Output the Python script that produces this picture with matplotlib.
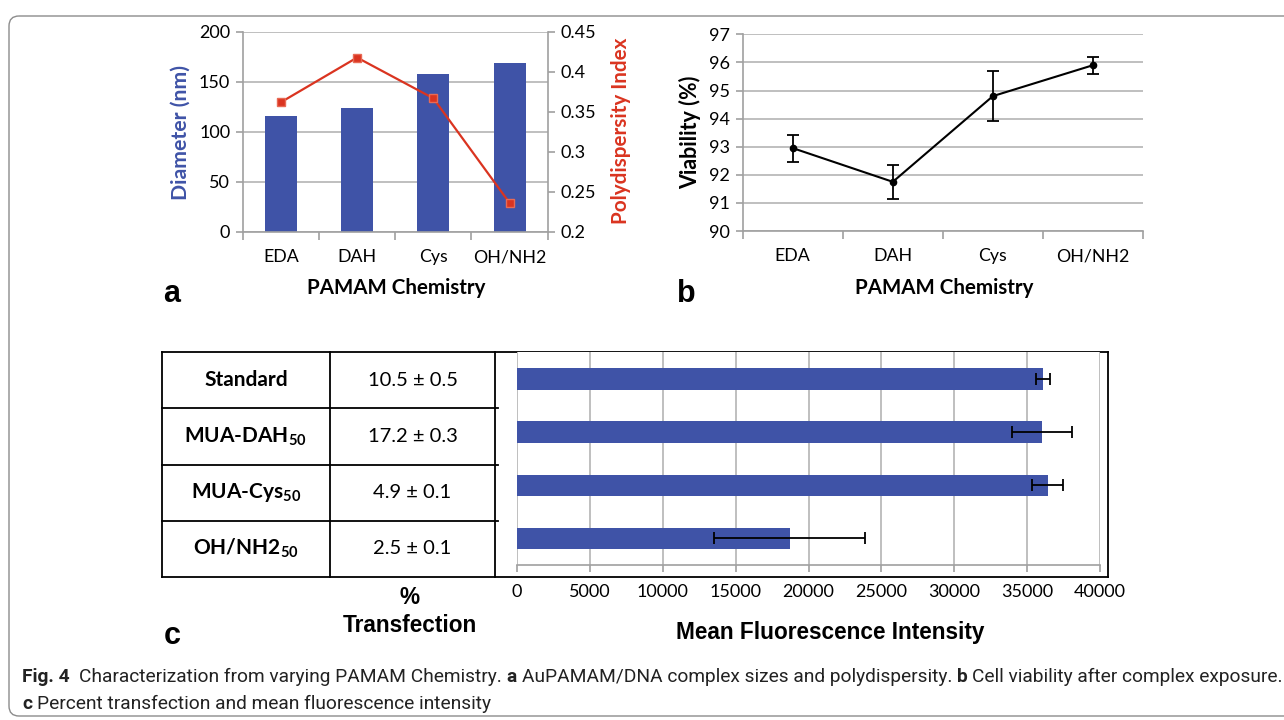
import numpy as np
import matplotlib
matplotlib.use('Agg')
import matplotlib.pyplot as plt
from matplotlib.patches import FancyBboxPatch

# ---- data ----
chem = ['EDA', 'DAH', 'Cys', 'OH/NH2']
diameter = [116, 123.5, 157.5, 168.5]
pdi = [0.362, 0.418, 0.367, 0.236]

viability = [92.95, 91.75, 94.8, 95.9]
viability_err = [0.48, 0.6, 0.9, 0.3]

samples = ['Standard', r'MUA-DAH$_{\mathbf{50}}$', r'MUA-Cys$_{\mathbf{50}}$', r'OH/NH2$_{\mathbf{50}}$']
transfection = ['10.5 ± 0.5', '17.2 ± 0.3', '4.9 ± 0.1', '2.5 ± 0.1']
mfi = [36100, 36000, 36400, 18700]
mfi_err = [480, 2070, 1050, 5180]

BLUE = '#3F53A7'
RED = '#DA3420'
GRID = '#B4B4B4'
AXC = '#A0A0A0'
XL = 'Lato'
AR = 'Liberation Sans'

plt.rcParams['font.family'] = [XL, 'DejaVu Sans']
plt.rcParams['mathtext.fontset'] = 'custom'
plt.rcParams['mathtext.rm'] = XL
plt.rcParams['mathtext.bf'] = XL + ':bold'

W, H = 1284, 720
fig = plt.figure(figsize=(W / 100, H / 100), dpi=100)


def box(x0, y0, x1, y1):
    # pixel box (top-left origin) -> figure fraction rect
    return [x0 / W, 1 - y1 / H, (x1 - x0) / W, (y1 - y0) / H]


# overlay axes in pixel coordinates for the table, labels and caption
ov = fig.add_axes([0, 0, 1, 1], zorder=-1)
ov.set_xlim(0, W)
ov.set_ylim(H, 0)
ov.axis('off')


def style_ax(ax, left=True, right=False):
    for s in ax.spines.values():
        s.set_color(AXC)
        s.set_linewidth(1.2)
    ax.spines['top'].set_visible(False)
    ax.spines['left'].set_visible(left)
    ax.spines['right'].set_visible(right)


def cat_ticks(ax, pad):
    ax.set_xlim(-0.5, 3.5)
    ax.set_xticks(np.arange(-0.5, 4, 1))
    ax.set_xticklabels([])
    ax.set_xticks(range(4), minor=True)
    ax.set_xticklabels(chem, minor=True, fontsize=12.8)
    ax.tick_params(axis='x', which='major', length=6, color=AXC, width=1.2)
    ax.tick_params(axis='x', which='minor', length=0, pad=pad)


# ---- panel a ----
ax1 = fig.add_axes(box(242.7, 32, 547.7, 231.7))
ax1.bar(range(4), diameter, width=0.42, color=BLUE, zorder=2)
ax1.set_ylim(0, 200)
ax1.set_yticks(range(0, 201, 50))
ax1.grid(axis='y', color=GRID, lw=1.2)
ax1.set_axisbelow(True)
style_ax(ax1)
cat_ticks(ax1, 12.5)
ax1.tick_params(axis='y', length=5, color=AXC, width=1.2, labelsize=13, pad=4)

ax2 = ax1.twinx()
ax2.plot(range(4), pdi, color=RED, lw=1.6, marker='s', ms=6,
         markerfacecolor=RED, markeredgecolor='#E86A55', zorder=3)
ax2.set_ylim(0.2, 0.45)
ax2.set_yticks(np.arange(0.2, 0.451, 0.05))
ax2.set_yticklabels(['0.2', '0.25', '0.3', '0.35', '0.4', '0.45'])
style_ax(ax2, left=False, right=True)
ax2.spines['bottom'].set_visible(False)
ax2.tick_params(axis='y', length=5, color=AXC, width=1.2, labelsize=13, pad=4)

ov.text(181, 132, 'Diameter (nm)', rotation=90, ha='center', va='center',
        fontsize=15.3, weight='bold', color=BLUE)
ov.text(621, 131, 'Polydispersity Index', rotation=90, ha='center', va='center',
        fontsize=14.9, weight='bold', color=RED)
ov.text(396, 288, 'PAMAM Chemistry', ha='center', va='center', fontsize=14.8, weight='bold')
ov.text(172, 294, 'a', ha='center', va='center', fontsize=22, weight='bold', family=AR)

# ---- panel b ----
ax3 = fig.add_axes(box(742.7, 34.3, 1143, 231))
ax3.errorbar(range(4), viability, yerr=viability_err, color='black', lw=1.5,
             marker='o', ms=4.5, capsize=4, capthick=1.3, elinewidth=1.3)
ax3.set_ylim(90, 97)
ax3.set_yticks(range(90, 98))
ax3.grid(axis='y', color=GRID, lw=1.2)
ax3.set_axisbelow(True)
style_ax(ax3)
cat_ticks(ax3, 12.5)
ax3.tick_params(axis='y', length=5, color=AXC, width=1.2, labelsize=13, pad=4)

ov.text(690, 132, 'Viability (%)', rotation=90, ha='center', va='center',
        fontsize=15.5, weight='bold')
ov.text(944, 288, 'PAMAM Chemistry', ha='center', va='center', fontsize=14.8, weight='bold')
ov.text(686, 294, 'b', ha='center', va='center', fontsize=22, weight='bold', family=AR)

# ---- panel c: table ----
tl, tm, tr, fr = 161.7, 330, 495, 1108
tt, tb = 352.3, 576.7
rows = np.linspace(tt, tb, 5)
lk = dict(color='black', lw=1.3, solid_capstyle='projecting')
ov.plot([tl, fr], [tt, tt], **lk)
ov.plot([tl, fr], [tb, tb], **lk)
for x in (tl, tm, tr, fr):
    ov.plot([x, x], [tt, tb], **lk)
for y in rows[1:-1]:
    ov.plot([tl, tr + 3], [y, y], **lk)
for i in range(4):
    yc = (rows[i] + rows[i + 1]) / 2
    ov.text((tl + tm) / 2, yc, samples[i], ha='center', va='center',
            fontsize=15, weight='bold')
    ov.text((tm + tr) / 2, yc, transfection[i], ha='center', va='center', fontsize=14.5)

ov.text(410, 598, '%', ha='center', va='center', fontsize=16.3, weight='bold', family=AR)
ov.text(410, 625, 'Transfection', ha='center', va='center', fontsize=16.3, weight='bold', family=AR)
ov.text(172, 636, 'c', ha='center', va='center', fontsize=22, weight='bold', family=AR)

# ---- panel c: bars ----
ax4 = fig.add_axes(box(517, tt, 1100, 565))
ax4.barh(range(4), mfi, height=0.4, xerr=mfi_err, color=BLUE, zorder=2,
         error_kw=dict(ecolor='black', elinewidth=1.3, capsize=4, capthick=1.3))
ax4.set_xlim(0, 40000)
ax4.set_ylim(3.5, -0.5)
ax4.set_xticks(range(0, 40001, 5000))
ax4.set_yticks([])
ax4.grid(axis='x', color=GRID, lw=1.2)
ax4.set_axisbelow(True)
for s in ('top', 'left', 'right'):
    ax4.spines[s].set_visible(False)
ax4.spines['bottom'].set_color(AXC)
ax4.spines['bottom'].set_linewidth(1.2)
ax4.tick_params(axis='x', length=5, color=AXC, width=1.2, labelsize=13, pad=9)
ov.text(830, 633, 'Mean Fluorescence Intensity', ha='center', va='center',
        fontsize=16.3, weight='bold', family=AR)

# ---- caption ----
ov.add_patch(FancyBboxPatch((9, 16), 1320, 700, boxstyle='round,pad=0,rounding_size=10',
                            fc='none', ec='#8C8C8C', lw=1.0))

CF = 'Roboto'
rend = fig.canvas.get_renderer()


def width(s, size, w):
    t = ov.text(0, 0, s, fontsize=size, weight=w, family=CF)
    bb = t.get_window_extent(renderer=rend)
    t.remove()
    return bb.width


line1 = [('Fig. 4', 'bold', 0), ('Characterization from varying PAMAM Chemistry.', 'normal', 2),
         ('a', 'bold', 1), ('AuPAMAM/DNA complex sizes and polydispersity.', 'normal', 1),
         ('b', 'bold', 1), ('Cell viability after complex exposure.', 'normal', 1)]
line2 = [('c', 'bold', 0), ('Percent transfection and mean fluorescence intensity', 'normal', 1)]


def line_width(parts, size):
    sp = width('x x', size, 'normal') - width('xx', size, 'normal')
    return sum(width(s, size, w) + g * sp for s, w, g in parts)


csize = 12 * (1280 - 22) / line_width(line1, 12)


def runs(x, y, parts, size):
    sp = width('x x', size, 'normal') - width('xx', size, 'normal')
    for s, w, g in parts:
        x += g * sp
        ov.text(x, y, s, fontsize=size, weight=w, family=CF, va='baseline', ha='left',
                color='#222222')
        x += width(s, size, w)


runs(22, 682, line1, csize)
runs(22, 709, line2, csize)

fig.savefig('out.png', dpi=100)
